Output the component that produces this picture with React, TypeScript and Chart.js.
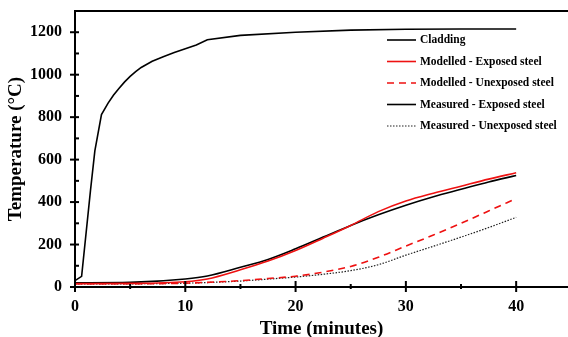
import React, { useEffect, useRef } from "react";
import { Chart, registerables } from "chart.js";

Chart.register(...registerables);

const FONT = '"Liberation Serif", "Times New Roman", serif';

// Cladding temperature
const cladTime = [0, 0.6, 1.4, 1.8, 2.4, 3, 3.5, 4, 4.5, 5, 5.5, 6, 7, 8, 9, 10, 11, 12, 15, 20, 25, 30, 35, 40];
const cladTemp = [30, 50, 453, 641, 812, 866, 904, 936, 966, 992, 1014, 1034, 1063, 1085, 1104, 1122, 1140, 1165, 1185, 1200, 1210, 1214, 1215, 1215];

// Steel temperatures (time in minutes)
const steelTime = [0, 5, 10, 12, 15, 17.5, 20, 22.5, 25, 27.5, 30, 32.5, 35, 37.5, 40];
const modelledExposed = [16, 17, 25, 38, 81, 122, 172, 230, 290, 355, 405, 442, 475, 508, 538];
const modelledUnexposed = [15, 15, 18, 22, 30, 40, 51, 70, 97, 140, 193, 245, 300, 358, 417];
const measuredExposed = [20, 22, 38, 52, 93, 130, 180, 235, 290, 340, 385, 425, 460, 495, 525];
const measuredUnexposed = [15, 15, 18, 21, 28, 37, 47, 60, 77, 105, 150, 192, 235, 280, 328];

const xTickLabels = [0, 10, 20, 30, 40];
const yTickLabels = [0, 200, 400, 600, 800, 1000, 1200];

const seriesNames = [
  "Cladding",
  "Modelled - Exposed steel",
  "Modelled - Unexposed steel",
  "Measured - Exposed steel",
  "Measured - Unexposed steel",
];

const RED = "#ee1111";

const pts = (xs: number[], ys: number[]) => xs.map((x, i) => ({ x, y: ys[i] }));

const decorPlugin = {
  id: "decor",
  afterDraw(chart: any) {
    const { ctx, chartArea, scales } = chart;
    const xs = scales.x;
    const ys = scales.y;
    const W = chart.width;
    ctx.save();
    ctx.strokeStyle = "#000";
    ctx.fillStyle = "#000";
    ctx.lineWidth = 2;
    // top line
    ctx.beginPath();
    ctx.moveTo(chartArea.left - 1, chartArea.top);
    ctx.lineTo(W, chartArea.top);
    ctx.stroke();
    // y axis
    ctx.beginPath();
    ctx.moveTo(chartArea.left, chartArea.top);
    ctx.lineTo(chartArea.left, chartArea.bottom + 1);
    ctx.stroke();
    // x axis
    ctx.beginPath();
    ctx.moveTo(chartArea.left - 5, chartArea.bottom);
    ctx.lineTo(W, chartArea.bottom);
    ctx.stroke();
    // y ticks
    for (let v = 0; v <= 1300; v += 100) {
      const y = ys.getPixelForValue(v);
      const major = v % 200 === 0;
      ctx.beginPath();
      ctx.moveTo(chartArea.left - (major ? 5 : 0), y);
      ctx.lineTo(chartArea.left + 4, y);
      ctx.stroke();
    }
    // x ticks
    for (let v = 0; v <= 40; v += 5) {
      const x = xs.getPixelForValue(v);
      const major = v % 10 === 0;
      ctx.beginPath();
      ctx.moveTo(x, chartArea.bottom - (major ? 6 : 3));
      ctx.lineTo(x, chartArea.bottom + (major ? 5 : 2));
      ctx.stroke();
    }
    // titles
    ctx.font = `bold 19px ${FONT}`;
    ctx.textAlign = "center";
    ctx.textBaseline = "alphabetic";
    ctx.fillText("Time (minutes)", (chartArea.left + chartArea.right) / 2, 334);
    ctx.save();
    ctx.translate(21, (chartArea.top + chartArea.bottom) / 2);
    ctx.rotate(-Math.PI / 2);
    ctx.fillText("Temperature (\u00B0C)", 0, 0);
    ctx.restore();
    // legend
    const rows = [40, 61.5, 83, 104.5, 126];
    ctx.font = `bold 11.5px ${FONT}`;
    ctx.textAlign = "left";
    ctx.textBaseline = "middle";
    chart.data.datasets.forEach((ds: any, i: number) => {
      const y = rows[i];
      ctx.save();
      ctx.strokeStyle = ds.borderColor;
      ctx.lineWidth = ds.borderWidth;
      ctx.setLineDash(ds.borderDash || []);
      ctx.beginPath();
      ctx.moveTo(387, y);
      ctx.lineTo(416, y);
      ctx.stroke();
      ctx.restore();
      ctx.fillStyle = "#000";
      ctx.fillText(ds.label, 420, y + 0.5);
    });
    ctx.restore();
  },
};

export default function App() {
  const ref = useRef<HTMLCanvasElement | null>(null);
  useEffect(() => {
    if (!ref.current) return;
    const chart = new Chart(ref.current, {
      type: "line",
      data: {
        datasets: [
          {
            label: seriesNames[0],
            data: pts(cladTime, cladTemp),
            borderColor: "#000",
            borderWidth: 1.6,
            tension: 0,
          },
          {
            label: seriesNames[1],
            data: pts(steelTime, modelledExposed),
            borderColor: RED,
            borderWidth: 1.6,
            cubicInterpolationMode: "monotone",
          },
          {
            label: seriesNames[2],
            data: pts(steelTime, modelledUnexposed),
            borderColor: RED,
            borderWidth: 1.6,
            borderDash: [7, 5],
            cubicInterpolationMode: "monotone",
          },
          {
            label: seriesNames[3],
            data: pts(steelTime, measuredExposed),
            borderColor: "#000",
            borderWidth: 1.6,
            cubicInterpolationMode: "monotone",
          },
          {
            label: seriesNames[4],
            data: pts(steelTime, measuredUnexposed),
            borderColor: "#222",
            borderWidth: 1.2,
            borderDash: [1.5, 1.5],
            cubicInterpolationMode: "monotone",
          },
        ] as any,
      },
      options: {
        animation: false,
        responsive: false,
        maintainAspectRatio: false,
        layout: { padding: { top: 11, right: 0, left: 0, bottom: 0 } },
        elements: { point: { radius: 0 } },
        plugins: { legend: { display: false }, tooltip: { enabled: false } },
        scales: {
          x: {
            type: "linear",
            min: 0,
            max: 44.7,
            grid: { display: false, drawTicks: false },
            border: { display: false },
            afterBuildTicks: (s: any) => {
              s.ticks = xTickLabels.map((v) => ({ value: v }));
            },
            afterFit: (s: any) => {
              s.height = 50;
              s.paddingLeft = 0;
              s.paddingRight = 0;
            },
            ticks: {
              padding: 10,
              color: "#000",
              maxRotation: 0,
              callback: (v: any) => String(v),
              font: { family: FONT, size: 16, weight: "bold" },
            },
          },
          y: {
            type: "linear",
            min: 0,
            max: 1300,
            grid: { display: false, drawTicks: false },
            border: { display: false },
            afterBuildTicks: (s: any) => {
              s.ticks = yTickLabels.map((v) => ({ value: v }));
            },
            afterFit: (s: any) => {
              s.width = 75;
              s.paddingTop = 0;
              s.paddingBottom = 0;
            },
            ticks: {
              padding: 13,
              color: "#000",
              callback: (v: any) => String(v),
              font: { family: FONT, size: 16, weight: "bold" },
            },
          },
        },
      },
      plugins: [decorPlugin],
    });
    return () => chart.destroy();
  }, []);
  return (
    <div style={{ position: "absolute", left: 0, top: 0, width: 568, height: 337, background: "#fff" }}>
      <canvas ref={ref} width={568} height={337} style={{ display: "block" }} />
    </div>
  );
}
